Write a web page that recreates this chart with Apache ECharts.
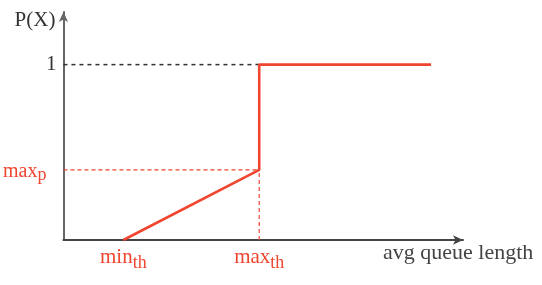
<!DOCTYPE html>
<html>
<head>
<meta charset="utf-8">
<script src="https://cdn.jsdelivr.net/npm/echarts@6/dist/echarts.min.js"></script>
<style>
html,body{margin:0;padding:0;background:#fff;}
#c{width:542px;height:285px;}
</style>
</head>
<body>
<div id="c"></div>
<script>
// thresholds and probabilities (abstract queue-length units, probability 0..1)
const minTh = 15;
const maxTh = 49;
const queueEnd = 92;
const maxP = 0.4;
const pOne = 1;
const xAxisMax = 100;
const yAxisMax = 1.3;

// the RED drop-probability curve
const curveX = [minTh, maxTh, maxTh, queueEnd];
const curveY = [0, maxP, pOne, pOne];

const yTickValues = [maxP, pOne];
const xTickValues = [minTh, maxTh];

const RED = '#f0452f';
const FONT = '"Liberation Serif", "DejaVu Serif", serif';

const chart = echarts.init(document.getElementById('c'));
chart.setOption({
  animation: false,
  backgroundColor: '#fff',
  grid: {left: 62, right: 79, top: 12, bottom: 45, containLabel: false},
  xAxis: {
    type: 'value', min: 0, max: xAxisMax,
    splitLine: {show: false}, axisTick: {show: false},
    axisLine: {show: true, lineStyle: {color: '#444', width: 2}, symbol: ['none', 'arrow'], symbolSize: [7, 10]},
    axisLabel: {
      customValues: xTickValues, margin: 7, fontFamily: FONT,
      formatter: v => v === minTh ? '{m|min}{s|th}' : '{m|max}{s|th}',
      rich: {
        m: {fontFamily: FONT, fontSize: 21, color: RED, lineHeight: 22, verticalAlign: 'top'},
        s: {fontFamily: FONT, fontSize: 18, color: RED, lineHeight: 22, verticalAlign: 'top', padding: [7, 0, 0, 0]}
      }
    },
    name: 'avg queue length', nameLocation: 'end', nameGap: -80,
    nameTextStyle: {fontFamily: FONT, fontSize: 22, color: '#444', align: 'left', verticalAlign: 'top', padding: [2, 0, 0, 0]}
  },
  yAxis: {
    type: 'value', min: 0, max: yAxisMax,
    splitLine: {show: false}, axisTick: {show: false},
    axisLine: {show: true, lineStyle: {color: '#666', width: 2}, symbol: ['none', 'arrow'], symbolSize: [7, 10]},
    axisLabel: {
      customValues: yTickValues, margin: 7, fontFamily: FONT,
      formatter: v => v === pOne ? '{k|1}' : '{m|max}{s|p}',
      rich: {
        k: {fontFamily: FONT, fontSize: 21, color: '#333'},
        m: {fontFamily: FONT, fontSize: 20, color: RED, lineHeight: 22, verticalAlign: 'top', padding: [3, 0, 0, 0]},
        s: {fontFamily: FONT, fontSize: 18, color: RED, lineHeight: 22, verticalAlign: 'top', padding: [7, 10, 0, 0]}
      }
    },
    name: 'P(X)', nameLocation: 'end', nameGap: -8,
    nameTextStyle: {fontFamily: FONT, fontSize: 21, color: '#333', align: 'right', verticalAlign: 'middle', padding: [0, 8, 0, 0]}
  },
  series: [
    {
      type: 'line', silent: true, showSymbol: false, symbol: 'none',
      data: [[0, pOne], [maxTh, pOne]],
      lineStyle: {color: '#333', width: 1.5, type: [4, 4]}
    },
    {
      type: 'line', silent: true, showSymbol: false, symbol: 'none',
      data: [[0, maxP], [maxTh, maxP]],
      lineStyle: {color: RED, width: 1.2, type: [4, 3]}
    },
    {
      type: 'line', silent: true, showSymbol: false, symbol: 'none',
      data: [[maxTh, 0], [maxTh, maxP]],
      lineStyle: {color: RED, width: 1.2, type: [4, 3]}
    },
    {
      type: 'line', silent: true, showSymbol: false, symbol: 'none',
      data: curveX.map((x, i) => [x, curveY[i]]),
      lineStyle: {color: RED, width: 2.6}
    }
  ]
});
</script>
</body>
</html>
